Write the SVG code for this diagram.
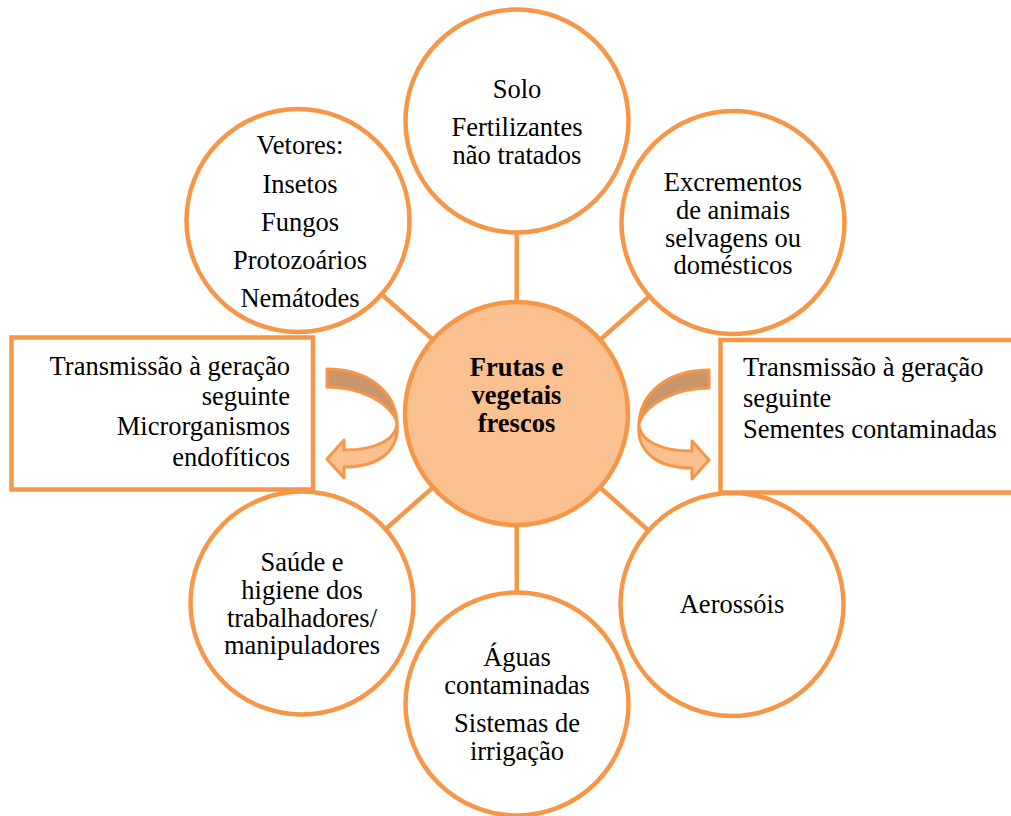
<svg xmlns="http://www.w3.org/2000/svg" width="1011" height="816" viewBox="0 0 1011 816">
<style>
.c{fill:#FFFFFF;stroke:#F79646;stroke-width:4.5}
.cc{fill:#FAC090;stroke:#F79646;stroke-width:4.5}
.b{fill:#FFFFFF;stroke:#F79646;stroke-width:4.5}
.ln{stroke:#F79646;stroke-width:4.5;fill:none}
.t{font-family:'Liberation Serif','DejaVu Serif',serif;font-size:26.5px;fill:#000000}
.m{text-anchor:middle}
.r{text-anchor:end}
.bd{font-weight:bold}
.ad{fill:#C9966B;stroke:#F79646;stroke-width:3;stroke-linejoin:round}
.al{fill:#FAC090;stroke:#F79646;stroke-width:3;stroke-linejoin:round}
</style>
<defs>
<g id="carrow">
<path class="ad" d="M327,369 C366,369 395,390 397,422 C390,403 362,387 327,387 Z"/>
<path class="al" d="M397,422 C397,440 375,450 344,450 L344,440 L327,459 L344,478 L344,467 C380,467 400,450 397,422 Z"/>
</g>
</defs>
<g id="connectors">
<line class="ln" x1="516.5" y1="413.5" x2="517" y2="121"/>
<line class="ln" x1="516.5" y1="413.5" x2="517" y2="704"/>
<line class="ln" x1="516.5" y1="413.5" x2="298" y2="220.5"/>
<line class="ln" x1="516.5" y1="413.5" x2="733" y2="222.5"/>
<line class="ln" x1="516.5" y1="413.5" x2="302" y2="603"/>
<line class="ln" x1="516.5" y1="413.5" x2="732" y2="604.5"/>
</g>
<g id="solo">
<circle class="c" cx="517" cy="121" r="111.5"/>
<text class="t m" x="517" y="98">Solo</text>
<text class="t m" x="517" y="136">Fertilizantes</text>
<text class="t m" x="517" y="164">não tratados</text>
</g>
<g id="vetores">
<circle class="c" cx="298" cy="220.5" r="111.5"/>
<text class="t m" x="300" y="154">Vetores:</text>
<text class="t m" x="300" y="192.5">Insetos</text>
<text class="t m" x="300" y="230.5">Fungos</text>
<text class="t m" x="300" y="268.5">Protozoários</text>
<text class="t m" x="300" y="306.5">Nemátodes</text>
</g>
<g id="excrementos">
<circle class="c" cx="733" cy="222.5" r="111.5"/>
<text class="t m" x="733" y="191">Excrementos</text>
<text class="t m" x="733" y="219">de animais</text>
<text class="t m" x="733" y="246.5">selvagens ou</text>
<text class="t m" x="733" y="274">domésticos</text>
</g>
<g id="saude">
<circle class="c" cx="302" cy="603" r="111.5"/>
<text class="t m" x="302" y="571">Saúde e</text>
<text class="t m" x="302" y="599">higiene dos</text>
<text class="t m" x="302" y="626.5">trabalhadores/</text>
<text class="t m" x="302" y="654">manipuladores</text>
</g>
<g id="aguas">
<circle class="c" cx="517" cy="704" r="111.5"/>
<text class="t m" x="517" y="666">Águas</text>
<text class="t m" x="517" y="694">contaminadas</text>
<text class="t m" x="517" y="732">Sistemas de</text>
<text class="t m" x="517" y="760">irrigação</text>
</g>
<g id="aerossois">
<circle class="c" cx="732" cy="604.5" r="111.5"/>
<text class="t m" x="732" y="613">Aerossóis</text>
</g>
<g id="centro">
<circle class="cc" cx="516.5" cy="413.5" r="111.5"/>
<text class="t m bd" x="516.5" y="376">Frutas e</text>
<text class="t m bd" x="516.5" y="403.5">vegetais</text>
<text class="t m bd" x="516.5" y="431.5">frescos</text>
</g>
<g id="box-esquerda">
<rect class="b" x="11.5" y="337.5" width="301.5" height="152"/>
<text class="t r" x="290" y="375">Transmissão à geração</text>
<text class="t r" x="290" y="405">seguinte</text>
<text class="t r" x="290" y="435">Microrganismos</text>
<text class="t r" x="290" y="465.5">endofíticos</text>
</g>
<g id="box-direita">
<rect class="b" x="720.5" y="340" width="300" height="152.5"/>
<text class="t" x="743" y="376">Transmissão à geração</text>
<text class="t" x="743" y="407">seguinte</text>
<text class="t" x="743" y="438">Sementes contaminadas</text>
</g>
<g id="seta-esquerda">
<use href="#carrow"/>
</g>
<g id="seta-direita">
<use href="#carrow" transform="translate(1036,1) scale(-1,1)"/>
</g>
</svg>
